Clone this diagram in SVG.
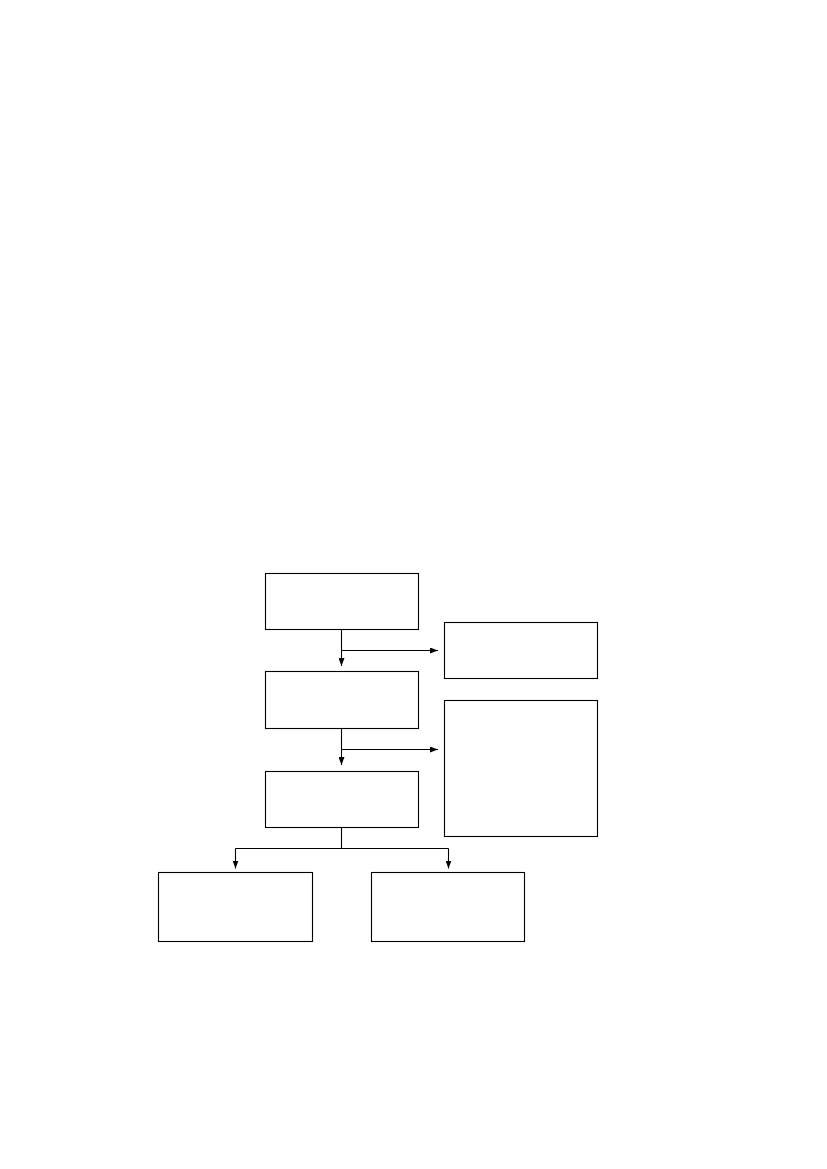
<svg xmlns="http://www.w3.org/2000/svg" width="827" height="1169" viewBox="0 0 827 1169">
<style>
.box{fill:#fff;stroke:#000;stroke-width:1.1}
.ln{fill:none;stroke:#000;stroke-width:1.1}
</style>
<defs>
<marker id="ah" markerWidth="8" markerHeight="6" refX="8" refY="3" orient="auto" markerUnits="userSpaceOnUse">
<path d="M0,0 L8,3 L0,6 Z" fill="#000"/>
</marker>
</defs>
<rect width="827" height="1169" fill="#fff"/>
<g id="connectors">
<path class="ln" d="M341.5,629.5 V666" marker-end="url(#ah)"/>
<path class="ln" d="M341.5,650.5 H438" marker-end="url(#ah)"/>
<path class="ln" d="M341.5,728.5 V765" marker-end="url(#ah)"/>
<path class="ln" d="M341.5,749.5 H438" marker-end="url(#ah)"/>
<path class="ln" d="M341.5,827.5 V848.5 M235.5,848.5 H448.5"/>
<path class="ln" d="M235.5,848.5 V868.5" marker-end="url(#ah)"/>
<path class="ln" d="M448.5,848.5 V868.5" marker-end="url(#ah)"/>
</g>
<g id="node1"><rect class="box" x="265.5" y="573.5" width="153" height="56"/></g>
<g id="node2"><rect class="box" x="265.5" y="671.5" width="153" height="57"/></g>
<g id="node3"><rect class="box" x="265.5" y="771.5" width="153" height="56"/></g>
<g id="nodeA"><rect class="box" x="444.5" y="622.5" width="153" height="56"/></g>
<g id="nodeB"><rect class="box" x="444.5" y="700.5" width="153" height="136"/></g>
<g id="nodeL"><rect class="box" x="158.5" y="872.5" width="154" height="69"/></g>
<g id="nodeR"><rect class="box" x="371.5" y="872.5" width="153" height="69"/></g>
</svg>
